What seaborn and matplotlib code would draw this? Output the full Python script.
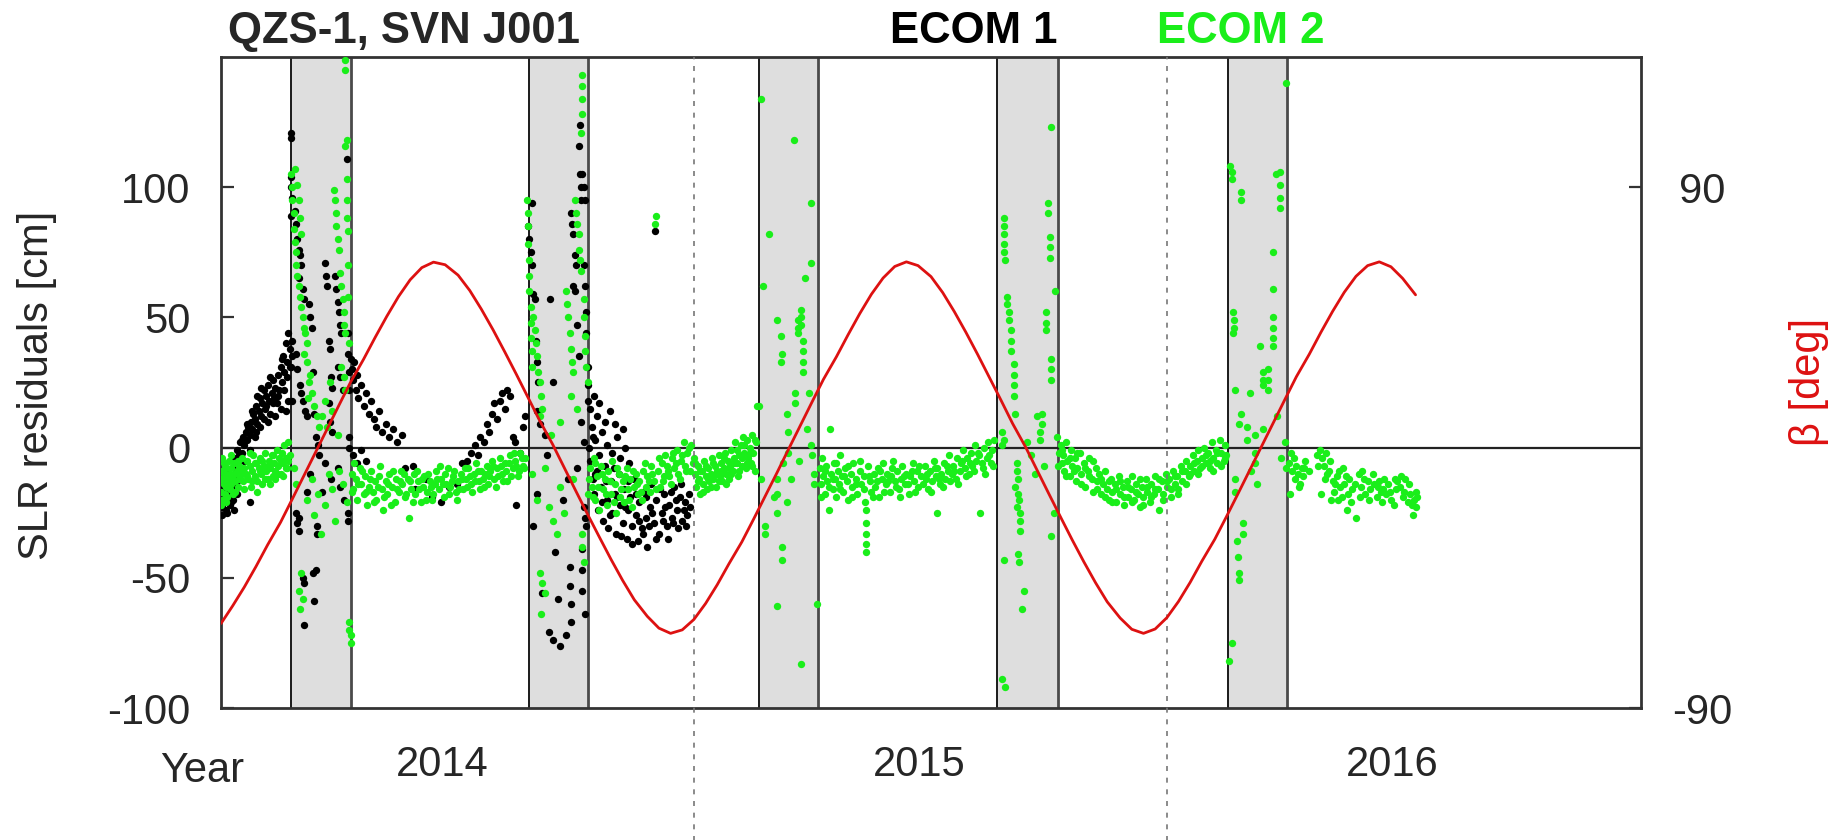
import matplotlib
matplotlib.use("Agg")
import matplotlib.pyplot as plt
import numpy as np
import pandas as pd
import seaborn as sns

# ---------------------------------------------------------------- data
# x: days since 2014-01-01, y: SLR residual in cm
ecom1_arc1 = [(0,-20),(1,-15),(1,-23),(2,-18),(3,-12),(3,-21),(4,-16),(5,-25),(5,-10),(6,-19),(7,-14),(7,-22),
              (8,-17),(9,-11),(9,-20),(10,-15),(11,-8),(12,-13),(22,-21),(11,-4),(12,-1),(13,-6),(14,-3),(15,2),
              (16,-2),(17,4),(18,1),(19,6),(20,3),(21,8),(22,5),(23,10),(24,7),(25,13),(26,11),(27,16),(28,9),
              (29,14),(30,19),(31,12),(32,17),(33,22),(34,15),(35,20),(36,24),(37,18),(38,13),(39,21),(40,26),
              (41,19),(42,23),(43,17),(44,28),(45,22),(46,31),(47,25),(48,35),(49,29),(50,40),(51,33),(52,44),
              (53,38),(52,18),(50,14)]
ecom1_arc1_more = [(0,-12),(1,-26),(2,-9),(4,-24),(6,-11),(8,-21),(10,-24),(12,-18),(14,-9),(16,3),(18,-5),
                   (20,9),(22,-1),(24,14),(26,4),(27,6),(28,20),(30,8),(31,23),(33,11),(35,16),(36,10),(38,27),
                   (40,17),(42,12),(44,20),(46,15),(47,34),(49,22),(51,27),(53,31)]
ecom1_eclipse1 = [(54,121),(54,119),(54,104),(54,100),(55,96),(54,89),(55,41),(55,35),(54,31),(55,18),
                  (57,91),(58,86),(59,80),(60,76),(61,74),(62,70),(60,65),(63,61),(64,57),(58,36),(59,30),
                  (61,24),(62,21),(63,18),(65,14),(66,12),(68,55),(69,50),(70,46),(71,29),(72,13),(73,4),
                  (75,1),(76,-3),(80,71),(81,66),(82,62),(83,41),(84,38),(85,27),(86,23),(83,17),(84,10),
                  (86,6),(88,66),(89,61),(90,56),(91,52),(92,47),(93,44),(90,31),(92,27),(94,22),(97,111),
                  (98,44),(98,36),(99,29),(99,22),(99,4),(99,0),(58,-25),(59,-29),(60,-32),(60,-27),(74,-30),
                  (74,-33),(73,-47),(64,-52),(72,-59),(64,-68),(71,-48),(63,-50),(66,-17),(69,-10),(78,-17),
                  (85,-12),(90,-8),(95,-20),(98,-25),(98,-28),(92,-15),(80,-6)]
ecom1_arc2 = [(100,34),(101,30),(102,26),(103,33),(104,22),(105,28),(106,19),(108,24),(110,16),(112,21),
              (114,13),(116,18),(118,11),(120,8),(122,14),(124,6),(127,9),(130,4),(133,7),(136,2),(140,5),
              (102,-3),(105,-6),(108,-1),(112,-5),(142,-8),(148,-7),(150,-16),(158,-12),(163,-19),(170,-21),
              (176,-15),(182,-14),(186,-6),(190,-5),(193,-2),(196,1),(198,-3),(200,4),(203,2),(205,9),(207,6),
              (209,13),(211,17),(213,11),(215,18),(217,21),(219,15),(221,22),(223,20),(225,4),(227,2),
              (228,-22),(231,-2),(233,8),(235,12)]
ecom1_eclipse2 = [(237,85),(238,80),(239,75),(240,70),(241,59),(242,57),(240,94),(243,41),(244,33),(245,25),
                  (244,14),(246,9),(254,57),(256,25),(250,5),(252,-3),(270,90),(271,86),(272,82),(273,74),
                  (274,70),(272,62),(273,60),(275,47),(276,116),(277,124),(277,105),(278,100),(278,95),
                  (279,105),(280,100),(281,95),(280,70),(281,62),(282,52),(282,44),(283,31),(283,24),(283,18),
                  (276,35),(278,10),(280,2),(241,-30),(244,-18),(248,-56),(258,-40),(260,-58),(253,-71),
                  (256,-74),(262,-76),(266,-72),(269,-46),(269,-53),(270,-60),(270,-67),(279,-39),(279,-47),
                  (279,-55),(281,-64),(280,-23),(281,-27),(282,-30),(264,-20),(268,-12),(275,-8)]
ecom1_arc3 = [(285,15),(286,8),(288,20),(289,3),(290,12),(292,17),(294,6),(296,10),(298,1),(300,14),(302,-2),
              (304,9),(306,4),(308,-4),(310,7),(312,0),(315,-6),(285,-5),(287,-12),(288,-18),(290,-9),(291,-24),
              (293,-15),(295,-28),(296,-7),(298,-20),(299,-31),(301,-13),(302,-25),(304,-18),(305,-33),(307,-10),
              (308,-22),(310,-29),(311,-16),(313,-35),(314,-24),(316,-19),(317,-30),(319,-12),(320,-26),
              (322,-36),(323,-21),(325,-31),(326,-17),(328,-27),(329,-38),(331,-23),(332,-14),(334,-29),
              (335,83),(336,-20),(338,-33),(340,-25),(342,-18),(344,-30),(346,-22),(348,-27),(350,-15),
              (352,-24),(354,-19),(356,-28),(358,-21),(360,-26)]
ecom1_arc3_more = [(284,0),(287,4),(289,-10),(292,-3),(294,-21),(297,-13),(300,-26),(303,-8),(306,-19),
                   (309,-34),(312,-23),(314,-13),(317,-37),(320,-18),(323,-28),(326,-33),(328,-19),(330,-30),
                   (333,-25),(336,-35),(339,-16),(341,-28),(343,-23),(345,-35),(347,-17),(349,-29),(351,-20),
                   (353,-31),(355,-14),(357,-24),(359,-30),(361,-18),(362,-23)]

ecom2_arc1 = [(0,-12),(0,-17),(1,-9),(1,-20),(2,-14),(2,-6),(3,-18),(3,-11),(4,-8),(4,-15),(5,-13),(5,-19),
              (6,-10),(6,-5),(7,-16),(7,-12),(8,-8),(8,-14),(9,-18),(10,-10),(10,-6),(11,-13),(12,-9),(13,-15),
              (14,-7),(15,-11),(16,-4),(17,-13),(18,-8),(19,-10),(20,-5),(21,-12),(22,-7),(23,-15),(24,-9),
              (25,-3),(26,-11),(27,-6),(28,-13),(29,-8),(30,-4),(31,-10),(32,-14),(33,-7),(34,-2),(35,-9),
              (36,-12),(37,-5),(38,-8),(39,-3),(40,-11),(41,-6),(42,-9),(43,-1),(44,-7),(45,-4),(46,-10),
              (47,-2),(48,-6),(49,1),(50,-4),(51,-8),(52,2),(53,-3)]
ecom2_arc1_more = [(0,-22),(1,-4),(2,-10),(3,-7),(4,-21),(6,-14),(8,-3),(9,-12),(11,-17),(13,-5),(14,-12),
                   (16,-9),(18,-16),(20,-11),(22,-2),(24,-13),(26,-6),(28,-17),(30,-9),(32,-5),(34,-12),(36,-7),
                   (38,-14),(40,-3),(42,-12),(44,-10),(46,-5),(48,-11),(50,-8),(52,-5)]
ecom2_eclipse1 = [(54,105),(55,100),(55,95),(56,90),(56,84),(57,107),(57,79),(58,75),(58,70),(59,101),(59,66),
                  (60,62),(60,95),(61,58),(61,88),(62,54),(62,82),(63,50),(64,46),(65,44),(66,40),(64,36),
                  (66,33),(68,25),(70,21),(72,16),(74,12),(76,8),(69,28),(67,19),(87,99),(88,95),(89,90),
                  (89,85),(90,80),(91,76),(92,67),(93,62),(94,57),(95,52),(95,47),(96,44),(93,31),(95,27),
                  (96,22),(97,118),(96,149),(96,145),(96,116),(97,103),(97,95),(97,88),(98,83),(98,70),(98,58),
                  (99,40),(84,25),(80,18),(78,12),(82,8),(86,14),(90,5),(56,-8),(58,-14),(62,-48),(60,-55),
                  (61,-62),(63,-58),(66,-20),(70,-12),(72,-26),(75,-18),(77,-33),(80,-22),(83,-10),(86,-16),
                  (88,-28),(91,-9),(94,-14),(97,-21),(99,-67),(99,-70),(100,-72),(100,-75)]
ecom2_arc2 = [(101,-10),(102,-16),(104,-12),(105,-20),(107,-8),(108,-14),(110,-18),(111,-11),(113,-22),
              (114,-15),(116,-9),(117,-17),(119,-13),(120,-20),(122,-11),(124,-16),(125,-24),(127,-13),
              (128,-18),(130,-10),(132,-15),(134,-21),(135,-12),(137,-17),(139,-9),(140,-14),(142,-19),
              (144,-12),(145,-27),(147,-16),(149,-10),(150,-18),(152,-13),(154,-21),(156,-15),(157,-11),
              (159,-17),(161,-13),(163,-20),(165,-14),(166,-9),(168,-16),(170,-12),(172,-19),(174,-14),
              (175,-8),(177,-15),(179,-11),(181,-17),(183,-13),(185,-10),(187,-16),(189,-12),(191,-8),
              (193,-14),(195,-10),(197,-6),(199,-13),(201,-9),(203,-15),(205,-7),(207,-11),(209,-5),
              (211,-12),(213,-8),(215,-4),(217,-10),(219,-6),(221,-13),(223,-3),(225,-8),(227,-5),
              (229,-11),(231,-2),(233,-7),(235,-4)]
ecom2_arc2_more = [(101,-17),(103,-6),(106,-14),(109,-9),(112,-17),(115,-12),(118,-21),(121,-15),(123,-7),
                   (126,-19),(129,-14),(131,-22),(133,-9),(136,-16),(138,-13),(141,-10),(143,-18),(146,-13),
                   (148,-21),(151,-9),(153,-16),(155,-12),(158,-20),(160,-10),(162,-15),(164,-18),(167,-12),
                   (169,-7),(171,-14),(173,-10),(176,-18),(178,-13),(180,-9),(182,-20),(184,-16),(186,-12),
                   (188,-8),(190,-15),(192,-11),(194,-17),(196,-13),(198,-9),(200,-16),(202,-12),(204,-10),
                   (206,-14),(208,-9),(210,-7),(212,-15),(214,-11),(216,-7),(218,-13),(220,-9),(222,-6),
                   (224,-11),(226,-2),(228,-7),(230,-9),(232,-4),(234,-8)]
ecom2_eclipse2 = [(236,95),(237,90),(237,85),(237,78),(238,72),(238,66),(238,60),(239,54),(239,48),(239,42),
                  (240,37),(240,31),(241,50),(242,45),(243,40),(244,35),(245,29),(246,25),(247,20),(248,15),
                  (246,12),(266,60),(267,55),(268,50),(269,44),(270,38),(271,33),(272,29),(273,95),(274,90),
                  (275,86),(276,82),(276,76),(277,72),(278,68),(278,121),(279,143),(279,139),(279,134),
                  (279,128),(280,57),(280,50),(281,43),(281,37),(282,31),(283,25),(270,20),(275,15),(262,10),
                  (255,5),(246,-48),(248,-52),(250,-56),(247,-64),(253,-23),(256,-28),(259,-33),(262,-15),
                  (265,-25),(279,-33),(279,-38),(280,-44),(272,-12),(240,-10),(244,-20),(250,-8),(283,-18)]
ecom2_arc3 = [(285,-8),(286,-15),(288,-4),(289,-20),(290,-11),(292,-24),(293,-7),(295,-16),(296,-12),
              (298,-22),(299,-9),(301,-18),(302,-5),(304,-14),(305,-25),(307,-10),(308,-19),(310,-13),
              (311,-21),(313,-8),(314,-16),(316,-12),(317,-23),(319,-15),(320,-10),(322,-18),(323,-13),
              (325,-20),(326,-9),(328,-15),(329,-11),(331,-17),(332,-7),(334,-13),(335,86),(336,89),
              (337,-9),(339,-15),(340,-6),(342,-11),(343,-3),(345,-9),(347,-14),(348,-4),(350,-8),(352,-1),
              (353,-10),(355,-5),(357,2),(358,-7),(360,-2),(362,-9),(363,1),(365,-4)]
ecom2_arc3_more = [(284,-12),(287,-19),(289,-6),(291,-15),(294,-10),(297,-18),(300,-13),(303,-21),(306,-8),
                   (309,-16),(312,-11),(315,-20),(318,-9),(321,-14),(324,-17),(327,-6),(330,-13),(333,-10),
                   (336,-16),(338,-4),(341,-13),(344,-7),(346,-11),(349,-2),(351,-6),(354,-12),(356,-3),
                   (359,-9),(361,0),(364,-6)]
ecom2_arc4 = [(366,-10),(367,-15),(368,-7),(369,-12),(370,-18),(371,-9),(372,-14),(373,-5),(374,-11),
              (375,-16),(376,-8),(377,-13),(378,-10),(379,-4),(380,-12),(381,-7),(382,-15),(383,-9),(384,-3),
              (385,-11),(386,-6),(387,-13),(388,-8),(389,-2),(390,-10),(391,-5),(392,-12),(393,-7),(394,-1),
              (395,-9),(396,-4),(397,2),(398,-6),(399,-11),(400,-3),(401,1),(402,-7),(403,4),(404,-2),
              (405,-8),(406,3),(407,-4),(408,0),(409,-6),(410,5),(411,-2),(412,-9),(413,2),(414,16)]
ecom2_arc4_more = [(366,-6),(368,-13),(370,-9),(372,-17),(374,-7),(376,-12),(378,-15),(380,-6),(382,-10),
                   (384,-13),(386,-9),(388,-4),(390,-14),(392,-8),(394,-10),(396,-6),(398,-1),(400,-9),
                   (402,-4),(404,1),(406,-6),(408,-2),(410,-7),(412,3)]
ecom2_eclipse3 = [(417,134),(418,62),(423,82),(429,49),(432,43),(432,33),(433,36),(442,118),(445,49),(445,46),
                  (445,44),(448,53),(448,50),(448,47),(451,65),(449,41),(449,37),(449,33),(449,29),(455,94),
                  (455,71),(454,21),(443,21),(443,17),(437,13),(438,6),(438,-2),(452,7),(455,1),(456,-3),
                  (415,16),(417,-12),(420,-30),(420,-33),(429,-12),(429,-18),(429,-25),(433,-38),(433,-43),
                  (437,-21),(427,-19),(434,-6),(446,-5),(440,-12),(458,-10),(458,-14),(429,-61),(448,-83),
                  (460,-60)]
ecom2_arc5 = [(462,-8),(463,-14),(464,-4),(465,-11),(466,-18),(467,-7),(468,-13),(469,-24),(470,7),(471,-10),
              (472,-16),(473,-6),(474,-12),(475,-19),(476,-9),(477,-14),(478,-3),(479,-11),(480,-17),(482,-8),
              (483,-13),(484,-20),(486,-10),(487,-15),(488,-6),(490,-12),(491,-18),(493,-9),(494,-14),
              (496,-11),(497,-21),(498,-24),(498,-29),(498,-33),(498,-37),(498,-40),(499,-7),(501,-13),
              (502,-17),(504,-10),(505,-15),(507,-8),(508,-19),(510,-12),(511,-6),(513,-14),(514,-10),
              (516,-17),(517,-11),(519,-5),(520,-13),(522,-9),(523,-16),(525,-12),(526,-7),(528,-14),
              (529,-10),(531,-18),(532,-11),(534,-6),(535,-13),(537,-9),(538,-15),(540,-11),(553,-25),
              (543,-7),(544,-12),(546,-16),(547,-9),(549,-13),(550,-5),(552,-11),(553,-8),(555,-14),
              (556,-10),(558,-6),(559,-12),(561,-9),(562,-3),(564,-10),(565,-7),(567,-12),(568,-4),(570,-9),
              (571,-6),(573,-1),(574,-8),(576,-4),(577,-10),(579,-2),(580,-7),(582,1),(583,-5),(585,-3),
              (586,-25),(588,-8),(589,0),(591,-4),(592,2),(594,-6),(595,-1),(597,3)]
ecom2_arc5_more = [(463,-19),(466,-9),(469,-15),(472,-12),(475,-6),(478,-16),(481,-11),(484,-7),(487,-19),
                   (490,-14),(493,-5),(496,-16),(500,-11),(503,-19),(506,-13),(509,-9),(512,-17),(515,-13),
                   (518,-8),(521,-15),(524,-19),(527,-11),(530,-14),(533,-9),(536,-17),(539,-7),(542,-14),
                   (545,-10),(548,-17),(551,-8),(554,-12),(557,-15),(560,-7),(563,-13),(566,-9),(569,-14),
                   (572,-5),(575,-11),(578,-6),(581,-9),(584,-2),(587,-6),(590,-10),(593,-3),(596,-7)]
ecom2_eclipse4 = [(604,88),(604,85),(604,82),(604,78),(604,75),(605,72),(607,58),(607,55),(608,52),(608,49),
                  (610,45),(610,41),(610,37),(612,32),(612,28),(612,24),(612,20),(613,13),(603,6),(604,3),
                  (603,1),(614,-6),(614,-9),(615,-12),(613,-15),(615,-18),(616,-20),(614,-23),(617,-25),
                  (617,-28),(617,-32),(615,-41),(604,-43),(616,-44),(641,123),(638,94),(638,90),(640,81),
                  (640,77),(640,73),(637,52),(637,48),(637,45),(641,34),(641,30),(641,26),(644,60),(634,13),
                  (634,9),(630,12),(632,6),(632,3),(643,-25),(641,-34),(603,-89),(605,-92),(618,-62),
                  (620,-55),(625,-3),(628,-10),(622,2),(635,-7),(645,4)]
ecom2_arc6 = [(647,-2),(648,1),(649,-6),(650,-3),(651,-9),(652,2),(653,-5),(655,-11),(656,-1),(657,-7),
              (659,-4),(660,-13),(661,-8),(663,-2),(664,-10),(666,-6),(667,-15),(669,-9),(670,-4),(672,-12),
              (673,-17),(675,-8),(676,-13),(678,-10),(679,-18),(681,-14),(682,-9),(684,-16),(685,-20),
              (687,-12),(688,-17),(690,-14),(691,-21),(693,-11),(694,-18),(696,-15),(697,-22),(699,-13),
              (700,-19),(702,-16),(703,-11),(705,-20),(706,-14),(708,-18),(709,-23),(711,-15),(712,-19),
              (714,-12),(715,-17),(717,-21),(718,-14),(720,-18),(721,-11),(723,-16),(724,-24),(726,-13),
              (727,-18),(729,-10),(730,-15),(732,-12),(733,-19),(735,-9),(736,-14),(738,-11),(739,-16),
              (741,-7),(742,-13),(744,-9),(745,-5),(747,-11),(748,-7),(750,-3),(751,-9),(753,-5),(754,-1),
              (756,-8),(757,-4),(759,0),(760,-6),(762,-2),(763,-8),(765,2),(766,-4),(768,-1),(769,-6),
              (771,3),(772,-2),(774,-5),(775,1),(776,-3)]
ecom2_arc6_more = [(646,-7),(649,-1),(652,-11),(655,-4),(658,-9),(661,-2),(664,-14),(667,-8),(670,-11),
                   (673,-5),(676,-16),(679,-12),(682,-19),(685,-13),(688,-21),(691,-16),(694,-13),(697,-19),
                   (700,-15),(703,-21),(706,-17),(709,-12),(712,-22),(715,-15),(718,-19),(721,-16),(724,-12),
                   (727,-20),(730,-13),(733,-16),(736,-11),(739,-18),(742,-9),(745,-14),(748,-10),(751,-6),
                   (754,-10),(757,-7),(760,-3),(763,-5),(766,-9),(769,-2),(772,-7),(775,-4)]
ecom2_eclipse5 = [(779,108),(780,106),(780,103),(787,98),(787,95),(781,52),(782,49),(782,46),(781,44),
                  (783,22),(787,13),(786,9),(794,21),(802,39),(804,29),(804,26),(804,24),(808,30),(808,26),
                  (808,22),(812,75),(812,61),(812,50),(812,46),(812,42),(812,39),(817,106),(817,101),(817,96),
                  (817,92),(814,105),(822,140),(792,8),(792,3),(798,5),(804,7),(783,-12),(783,-17),(789,-29),
                  (789,-33),(786,-51),(798,-2),(798,-6),(795,-9),(800,-14),(784,-36),(785,-42),(786,-48),
                  (780,-75),(778,-82),(818,-4),(821,2),(815,12),(822,-8)]
ecom2_arc7 = [(824,-6),(825,-18),(826,-2),(827,-9),(829,-12),(830,-7),(831,-10),(833,-14),(834,-8),(835,-11),
              (837,-5),(840,-9),(846,-3),(848,-1),(849,-18),(850,-4),(851,-7),(853,-2),(854,-10),(856,-5),
              (858,-13),(859,-17),(861,-11),(862,-20),(864,-15),(866,-8),(867,-14),(869,-24),(870,-18),
              (871,-12),(873,-16),(876,-27),(878,-10),(880,-15),(881,-9),(883,-18),(885,-13),(887,-16),
              (890,-14),(892,-19),(894,-13),(896,-21),(897,-16),(899,-18),(901,-14),(903,-20),(906,-12),
              (908,-13),(910,-15),(912,-19),(914,-12),(916,-21),(918,-18),(920,-26),(921,-20),(922,-17),
              (923,-19)]
ecom2_arc7_more = [(828,-4),(832,-15),(836,-8),(847,-7),(852,-12),(855,-9),(857,-20),(860,-14),(863,-9),
                   (865,-19),(868,-11),(872,-21),(875,-14),(879,-19),(882,-12),(886,-20),(889,-10),(893,-15),
                   (895,-17),(898,-12),(902,-17),(905,-22),(907,-16),(911,-11),(913,-17),(917,-14),(919,-22),
                   (922,-23)]

# beta angle of the Sun above the orbital plane [deg]
beta_day = [0, 9, 18, 27, 36, 46, 55, 64, 73, 82, 91, 100, 110, 119, 128, 137, 146, 155, 164, 173, 183, 192,
            201, 210, 219, 228, 237, 246, 256, 265, 274, 283, 292, 301, 310, 319, 329, 338, 347, 356, 365, 374,
            383, 392, 402, 411, 420, 429, 438, 447, 456, 465, 475, 484, 493, 502, 511, 520, 529, 538, 548, 557,
            566, 575, 584, 593, 602, 611, 621, 630, 639, 648, 657, 666, 675, 684, 694, 703, 712, 721, 730, 739,
            748, 757, 767, 776, 785, 794, 803, 812, 821, 830, 840, 849, 858, 867, 876, 885, 894, 903, 912, 922]
beta_deg = [-60.8, -54.7, -48.2, -41.1, -33.6, -25.8, -17.8, -9.7, -1.6, 6.5, 14.6, 22.6, 30.5, 38.1, 45.4,
            52.2, 58.0, 62.2, 64.1, 63.2, 59.6, 54.3, 47.8, 40.7, 33.1, 25.3, 17.3, 9.3, 1.1, -7.0, -15.1,
            -23.1, -30.9, -38.6, -45.9, -52.6, -58.3, -62.4, -64.2, -63.0, -59.4, -53.9, -47.4, -40.2, -32.6,
            -24.8, -16.8, -8.8, -0.6, 7.5, 15.6, 23.6, 31.4, 39.0, 46.3, 53.0, 58.6, 62.6, 64.2, 62.9, 59.1,
            53.6, 47.0, 39.8, 32.2, 24.3, 16.4, 8.3, 0.2, -7.9, -16.0, -24.0, -31.9, -39.5, -46.7, -53.3,
            -58.9, -62.8, -64.2, -62.7, -58.8, -53.2, -46.6, -39.3, -31.7, -23.9, -15.9, -7.8, 0.3, 8.4,
            16.5, 24.5, 32.3, 39.9, 47.1, 53.7, 59.2, 62.9, 64.2, 62.5, 58.5, 52.8]

eclipse_start = [54, 238, 415, 599, 777]
eclipse_end = [100, 283, 461, 646, 823]
year_start_day = [365, 730]
year_label_day = [171, 539, 904]
year_labels = ["2014", "2015", "2016"]

# ---------------------------------------------------------------- frames
def to_frame(*arcs):
    pts = [p for arc in arcs for p in arc]
    return pd.DataFrame(pts, columns=["day", "cm"])

ecom1 = to_frame(ecom1_arc1, ecom1_arc1_more, ecom1_eclipse1, ecom1_arc2, ecom1_eclipse2,
                 ecom1_arc3, ecom1_arc3_more)
ecom2 = to_frame(ecom2_arc1, ecom2_arc1_more, ecom2_eclipse1, ecom2_arc2, ecom2_arc2_more,
                 ecom2_eclipse2, ecom2_arc3, ecom2_arc3_more, ecom2_arc4, ecom2_arc4_more,
                 ecom2_eclipse3, ecom2_arc5, ecom2_arc5_more, ecom2_eclipse4, ecom2_arc6,
                 ecom2_arc6_more, ecom2_eclipse5, ecom2_arc7, ecom2_arc7_more)
beta = pd.DataFrame({"day": beta_day, "deg": beta_deg})

# ---------------------------------------------------------------- style
sns.set_theme(style="white")
plt.rcParams["font.family"] = ["Liberation Sans", "DejaVu Sans"]
plt.rcParams["axes.unicode_minus"] = False

GREEN = "#1aee1a"
RED = "#dd1111"
FS = 30
W, H = 1836, 840

fig = plt.figure(figsize=(W / 100, H / 100), dpi=100)
ax = fig.add_axes([221 / W, (H - 708) / H, 1420 / W, 651 / H])
ax.set_facecolor("white")

# eclipse seasons
for s, e in zip(eclipse_start, eclipse_end):
    ax.axvspan(s, e, facecolor="#dedede", edgecolor="none", zorder=0)
    ax.axvline(s, color="#1a1a1a", lw=1.4, zorder=1)
    ax.axvline(e, color="#4a4a4a", lw=2.0, zorder=1)

ax.axhline(0, color="#222222", lw=1.6, zorder=1.5)

sns.scatterplot(data=ecom1, x="day", y="cm", ax=ax, color="black", s=28,
                linewidth=0, zorder=3, legend=False)
sns.scatterplot(data=ecom2, x="day", y="cm", ax=ax, color=GREEN, s=28,
                linewidth=0, zorder=4, legend=False)

# year boundaries, running down through the year labels
for d in year_start_day:
    ax.plot([d, d], [-0.21, 1.0], transform=ax.get_xaxis_transform(), clip_on=False,
            color="#777777", lw=1.2, ls=(0, (3, 4)), zorder=5)

ax.set_xlim(0, 1096)
ax.set_ylim(-100, 150)
ax.set_yticks([-100, -50, 0, 50, 100])
ax.set_xticks(year_label_day, year_labels)
ax.tick_params(axis="x", length=0, pad=27, labelsize=FS)
ax.tick_params(axis="y", direction="in", length=9, width=1.6, pad=22, labelsize=FS, color="#333333")
ax.set_xlabel("")
ax.set_ylabel("")
for sp in ax.spines.values():
    sp.set_visible(True)
    sp.set_color("#333333")
    sp.set_linewidth(2.0)

# beta angle on the right axis
ax2 = ax.twinx()
sns.lineplot(data=beta, x="day", y="deg", ax=ax2, color=RED, lw=2.0,
             estimator=None, sort=False, zorder=6)
ax2.set_ylim(-90, 135)
ax2.set_xlim(0, 1096)
ax2.set_yticks([-90, 90])
ax2.tick_params(axis="y", direction="in", length=9, width=1.6, pad=44, labelsize=FS, color="#333333")
for lab in ax2.get_yticklabels():
    lab.set_horizontalalignment("center")
ax2.set_ylabel("")
for sp in ax2.spines.values():
    sp.set_visible(False)

# header texts and axis labels
fig.text(228 / W, 1 - 43 / H, "QZS-1, SVN J001", fontsize=31.5, fontweight="bold",
         ha="left", va="baseline")
fig.text(1058 / W, 1 - 43 / H, "ECOM 1", fontsize=31.5, fontweight="bold",
         ha="right", va="baseline", color="black")
fig.text(1157 / W, 1 - 43 / H, "ECOM 2", fontsize=31.5, fontweight="bold",
         ha="left", va="baseline", color=GREEN)
fig.text(202 / W, 1 - 782 / H, "Year", fontsize=FS, ha="center", va="baseline")
fig.text(37 / W, 1 - 385 / H, "SLR residuals [cm]", fontsize=FS, rotation=90,
         ha="center", va="center")
fig.text(1809 / W, 1 - 382 / H, "β [deg]", fontsize=FS, rotation=90,
         ha="center", va="center", color=RED)

fig.savefig("out.png", dpi=100, facecolor="white")
